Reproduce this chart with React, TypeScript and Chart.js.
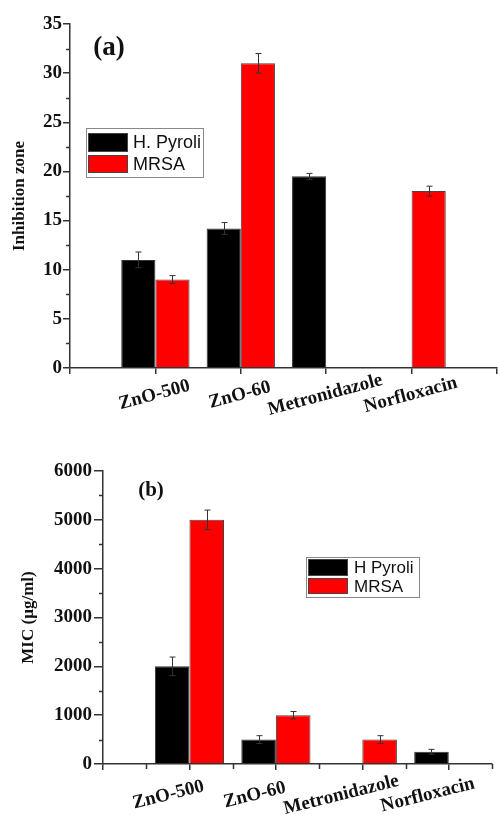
import React, { useEffect, useRef } from 'react';
import { Chart, registerables } from 'chart.js';

Chart.register(...registerables);

// ---------- data ----------
const categories = ['ZnO-500', 'ZnO-60', 'Metronidazole', 'Norfloxacin'];

// Panel (a): inhibition zone
const zoneLabels = ['H. Pyroli', 'MRSA'];
const zoneHPyroli = [11.0, 14.2, 19.5, null];
const zoneHPyroliErr = [0.8, 0.6, 0.3, null];
const zoneMRSA = [9.0, 31.0, null, 18.0];
const zoneMRSAErr = [0.4, 1.0, null, 0.5];
const zoneMinorTicks = [2.5, 7.5, 12.5, 17.5, 22.5, 27.5, 32.5];

// Panel (b): MIC
const micLabels = ['H Pyroli', 'MRSA'];
const micHPyroli = [2000, 500, null, 250];
const micHPyroliErr = [190, 80, null, 50];
const micMRSA = [5000, 1000, 500, null];
const micMRSAErr = [200, 75, 80, null];
const micMinorTicks = [500, 1500, 2500, 3500, 4500, 5500];
const micXMinorTicks = [0.5, 1.5, 2.5, 3.5, 4.5];

const SERIF = "'Liberation Serif', 'Times New Roman', serif";
const SANS = "'Liberation Sans', Arial, sans-serif";

function toPoints(values: (number | null)[]) {
  return values.map((v, i) => ({ x: i + 1, y: v }));
}

function makeDecor(cfg: any) {
  return {
    id: 'decor',
    afterDatasetsDraw(chart: any) {
      const ctx = chart.ctx;
      const yS = chart.scales.y;
      chart.data.datasets.forEach((ds: any, di: number) => {
        const meta = chart.getDatasetMeta(di);
        const errs = cfg.errors[di];
        meta.data.forEach((el: any, i: number) => {
          const v = ds.data[i].y;
          const e = errs[i];
          if (v == null || e == null) return;
          const top = yS.getPixelForValue(v + e);
          const bot = yS.getPixelForValue(v - e);
          const x = Math.round(el.x) + 0.5;
          ctx.save();
          ctx.strokeStyle = '#333';
          ctx.lineWidth = 1;
          ctx.beginPath();
          ctx.moveTo(x, top);
          ctx.lineTo(x, bot);
          ctx.moveTo(x - 3, top);
          ctx.lineTo(x + 3, top);
          ctx.moveTo(x - 3, bot);
          ctx.lineTo(x + 3, bot);
          ctx.stroke();
          ctx.restore();
        });
      });
    },
    afterDraw(chart: any) {
      const ctx = chart.ctx;
      const area = chart.chartArea;
      const xS = chart.scales.x;
      const yS = chart.scales.y;
      ctx.save();
      // minor ticks
      ctx.strokeStyle = '#333';
      ctx.lineWidth = 1.5;
      ctx.beginPath();
      cfg.yMinor.forEach((v: number) => {
        const py = Math.round(yS.getPixelForValue(v)) + 0.5;
        ctx.moveTo(area.left - 4, py);
        ctx.lineTo(area.left, py);
      });
      cfg.xMinor.forEach((v: number) => {
        const px = Math.round(xS.getPixelForValue(v)) + 0.5;
        ctx.moveTo(px, area.bottom);
        ctx.lineTo(px, area.bottom + 5);
      });
      ctx.stroke();

      // category labels
      ctx.fillStyle = '#111';
      ctx.font = `bold ${cfg.xFont}px ${SERIF}`;
      ctx.textAlign = 'center';
      ctx.textBaseline = 'middle';
      categories.forEach((c, i) => {
        const px = xS.getPixelForValue(i + 1) + cfg.xLabelDx;
        const py = area.bottom + cfg.xLabelDy;
        ctx.save();
        ctx.translate(px, py);
        ctx.rotate((-cfg.xAngle * Math.PI) / 180);
        ctx.fillText(c, 0, 0);
        ctx.restore();
      });

      // panel tag
      ctx.font = `bold ${cfg.tag.size}px ${SERIF}`;
      ctx.fillText(cfg.tag.text, area.left + cfg.tag.dx, area.top + cfg.tag.dy);

      // legend
      const L = cfg.legend;
      const bx = area.left + L.dx;
      const by = area.top + L.dy;
      ctx.strokeStyle = '#888';
      ctx.lineWidth = 1;
      ctx.strokeRect(Math.round(bx) + 0.5, Math.round(by) + 0.5, L.w, L.h);
      ctx.font = `${L.font}px ${SANS}`;
      ctx.textAlign = 'left';
      chart.data.datasets.forEach((ds: any, di: number) => {
        const r = L.rows[di];
        ctx.fillStyle = ds.backgroundColor;
        ctx.fillRect(bx + 2, by + r[0], 40, r[1]);
        ctx.strokeStyle = '#444';
        ctx.strokeRect(bx + 2.5, by + r[0] + 0.5, 39, r[1] - 1);
        ctx.fillStyle = '#111';
        ctx.fillText(ds.label, bx + L.textDx, by + r[0] + r[1] / 2 + 1);
      });
      ctx.restore();
    },
  };
}

function buildConfig(p: any) {
  return {
    type: 'bar',
    data: {
      datasets: [
        {
          label: p.labels[0],
          data: toPoints(p.s1),
          backgroundColor: '#000000',
          borderColor: '#333333',
          borderWidth: 1,
          categoryPercentage: 0.8,
          barPercentage: 1.0,
        },
        {
          label: p.labels[1],
          data: toPoints(p.s2),
          backgroundColor: '#ff0000',
          borderColor: '#444444',
          borderWidth: 1,
          categoryPercentage: 0.8,
          barPercentage: 1.0,
        },
      ],
    },
    options: {
      responsive: false,
      animation: false,
      devicePixelRatio: 1,
      layout: { padding: p.padding },
      plugins: {
        legend: { display: false },
        tooltip: { enabled: false },
      },
      scales: {
        x: {
          type: 'linear',
          offset: false,
          min: 0,
          max: p.xMax,
          ticks: { display: false, stepSize: 1, includeBounds: false },
          grid: {
            display: true,
            offset: false,
            drawOnChartArea: false,
            drawTicks: true,
            tickLength: 6,
            color: '#333',
            lineWidth: 1.5,
          },
          border: { display: true, color: '#333', width: 1.5 },
          afterFit: (s: any) => {
            s.height = p.xHeight;
          },
        },
        y: {
          min: 0,
          max: p.yMax,
          ticks: {
            stepSize: p.yStep,
            padding: p.tickPad,
            color: '#111',
            font: { family: SERIF, size: 19, weight: 'bold' },
            callback: (v: any) => String(v),
          },
          grid: {
            display: true,
            drawOnChartArea: false,
            drawTicks: true,
            tickLength: p.tickLen,
            color: '#333',
            lineWidth: 1.5,
          },
          border: { display: true, color: '#333', width: 1.5 },
          title: {
            display: true,
            text: p.yTitle,
            color: '#111',
            font: { family: SERIF, size: 17, weight: 'bold' },
            padding: { top: p.titlePad, bottom: 0 },
          },
          afterFit: (s: any) => {
            s.width = p.yWidth;
          },
        },
      },
    },
    plugins: [makeDecor(p.decor)],
  };
}

export default function App() {
  const refA = useRef<HTMLCanvasElement>(null);
  const refB = useRef<HTMLCanvasElement>(null);

  useEffect(() => {
    const cfgA: any = buildConfig({
      labels: zoneLabels,
      s1: zoneHPyroli,
      s2: zoneMRSA,
      xMax: 5,
      yMax: 35,
      yStep: 5,
      yTitle: 'Inhibition zone',
      padding: { top: 24, right: 1, bottom: 0, left: 0 },
      xHeight: 52,
      yWidth: 70,
      tickPad: 1,
      tickLen: 7,
      titlePad: 9,
      decor: {
        errors: [zoneHPyroliErr, zoneMRSAErr],
        yMinor: zoneMinorTicks,
        xMinor: [],
        xFont: 19,
        xLabelDx: -1,
        xLabelDy: 27,
        xAngle: 15,
        tag: { text: '(a)', size: 27, dx: 39, dy: 24 },
        legend: { dx: 16, dy: 104, w: 117, h: 49, rows: [[5, 19], [27, 18]], textDx: 47, font: 18 },
      },
    });
    const cfgB: any = buildConfig({
      labels: micLabels,
      s1: micHPyroli,
      s2: micMRSA,
      xMax: 4.5,
      yMax: 6000,
      yStep: 1000,
      yTitle: 'MIC (µg/ml)',
      padding: { top: 51, right: 6, bottom: 0, left: 0 },
      xHeight: 51,
      yWidth: 103,
      tickPad: 2,
      tickLen: 9,
      titlePad: 18,
      decor: {
        errors: [micHPyroliErr, micMRSAErr],
        yMinor: micMinorTicks,
        xMinor: micXMinorTicks,
        xFont: 19,
        xLabelDx: -21,
        xLabelDy: 31,
        xAngle: 14,
        tag: { text: '(b)', size: 21, dx: 48, dy: 20 },
        legend: { dx: 203, dy: 86, w: 113, h: 40, rows: [[2, 17], [21, 16]], textDx: 48, font: 17 },
      },
    });
    const a = new Chart(refA.current as HTMLCanvasElement, cfgA);
    const b = new Chart(refB.current as HTMLCanvasElement, cfgB);
    return () => {
      a.destroy();
      b.destroy();
    };
  }, []);

  return (
    <div style={{ position: 'absolute', left: 0, top: 0, width: 498, height: 815, background: '#fff' }}>
      <canvas
        ref={refA}
        width={498}
        height={420}
        style={{ position: 'absolute', left: 0, top: 0, width: 498, height: 420 }}
      />
      <canvas
        ref={refB}
        width={498}
        height={395}
        style={{ position: 'absolute', left: 0, top: 420, width: 498, height: 395 }}
      />
    </div>
  );
}
